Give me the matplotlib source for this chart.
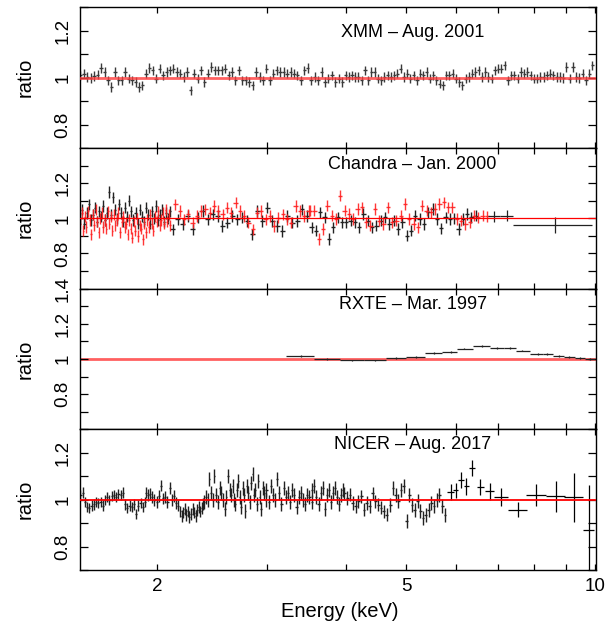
import numpy as np
import matplotlib
matplotlib.use("Agg")
import matplotlib.pyplot as plt
from matplotlib.ticker import FixedLocator, FixedFormatter, NullFormatter

plt.rcParams['font.family'] = ['Liberation Sans', 'DejaVu Sans']

# ---------------- data: data/model ratios ----------------
# XMM - Aug. 2001 (two stretches of nearly log-even grouping)
xmm_band_lo = (1.51, 3.90)
xmm_ratio_lo = [1.010, 1.017, 1.003, 0.999, 1.007, 1.013, 1.041, 1.024, 0.989, 0.960,
                1.024, 0.989, 0.989, 1.024, 0.996, 0.989, 0.982, 0.960, 0.967, 1.017,
                1.041, 1.031, 0.996, 1.038, 1.010, 1.024, 1.031, 1.038, 1.024, 1.017,
                1.003, 1.024, 0.946, 1.017, 0.996, 1.031, 0.982, 1.017, 1.045, 1.031,
                1.031, 1.031, 1.038, 1.010, 1.024, 0.989, 1.031, 0.989, 0.989, 0.982,
                0.967, 1.024, 1.003, 0.989, 1.038, 0.989, 1.017, 1.031, 1.024, 1.024,
                1.017, 1.024, 1.017, 1.010, 0.989, 1.031, 1.041, 0.989, 1.003, 0.989,
                1.024, 0.982, 0.996, 1.010, 0.982, 0.996]
xmm_band_hi = (3.95, 9.90)
xmm_ratio_hi = [0.982, 1.010, 1.003, 1.010, 1.003, 1.003, 0.989, 1.031, 0.989, 1.024,
                1.024, 0.996, 0.989, 1.003, 1.010, 1.003, 1.010, 1.017, 1.038, 1.003,
                1.017, 0.996, 1.010, 0.989, 1.017, 1.010, 1.024, 0.996, 1.010, 0.989,
                0.974, 0.967, 1.010, 1.010, 1.017, 0.996, 0.982, 0.967, 0.996, 1.003,
                1.017, 1.024, 1.031, 1.003, 1.024, 1.003, 0.996, 1.031, 1.038, 1.038,
                1.053, 0.989, 1.010, 1.010, 0.996, 1.024, 1.017, 1.024, 1.010, 0.996,
                0.996, 1.003, 1.003, 1.010, 1.017, 1.010, 1.003, 1.003, 0.999, 1.045,
                0.996, 1.045, 1.003, 0.999, 1.017, 0.989, 1.017, 1.053]
xmm_err = 0.02

# Chandra - Jan. 2000, red grating
chandra_red_band_a = (1.51, 2.10)
chandra_red_a = [0.97, 1.03, 0.93, 1.01, 0.95, 1.04, 0.99, 0.91, 1.02, 0.96,
                 1.05, 0.98, 0.92, 1.00, 1.03, 0.95, 0.99, 0.94, 1.04, 0.97,
                 1.01, 0.93, 1.02, 0.96, 0.99, 1.03, 0.92, 0.98, 1.01, 0.95,
                 0.97, 0.91, 0.99, 0.94, 0.89, 0.98, 0.93, 1.00, 0.90, 0.96,
                 0.94, 0.88, 0.97, 0.92, 0.99, 0.95, 1.02, 0.97, 0.93, 1.01,
                 0.98, 1.04, 0.96, 0.99, 1.03, 0.97, 1.05, 0.98, 1.02, 0.96]
chandra_red_band_b = (2.14, 3.49)
chandra_red_b = [1.080, 1.042, 0.994, 1.023, 0.975, 1.013, 1.042, 1.051, 1.032, 1.070,
                 1.042, 1.023, 1.061, 1.032, 1.089, 1.042, 1.013, 0.975, 0.937, 1.032,
                 1.042, 0.994, 1.013, 0.956, 1.004, 1.023, 0.994, 0.975, 1.070, 1.042,
                 1.013, 1.042]
chandra_red_band_c = (3.51, 6.72)
chandra_red_c = [1.044, 1.044, 0.882, 0.939, 1.072, 1.015, 0.996, 1.129, 1.044, 1.025,
                 0.996, 1.053, 1.063, 0.977, 0.958, 1.053, 0.987, 0.968, 1.063, 0.977,
                 0.987, 1.015, 1.082, 0.996, 0.968, 0.949, 1.072, 1.044, 1.034, 1.053,
                 1.082, 1.091, 1.063, 1.063, 0.996, 0.987, 0.968, 0.977, 1.015, 1.006,
                 1.015, 1.011]
chandra_red_err = 0.032

# Chandra - Jan. 2000, black grating
chandra_blk_band_a = (1.51, 2.10)
chandra_blk_a = [1.00, 1.05, 0.97, 1.03, 1.08, 0.99, 1.02, 1.06, 0.98, 1.04,
                 1.01, 1.07, 0.99, 1.03, 1.15, 1.02, 1.12, 1.05, 1.00, 1.08,
                 1.03, 0.98, 1.06, 1.01, 1.10, 1.04, 0.99, 1.03, 0.97, 1.05,
                 1.01, 0.98, 1.06, 1.02, 0.97, 1.04, 1.00, 1.07, 0.99, 1.02,
                 1.05, 0.98, 1.03, 1.00, 1.04]
chandra_blk_band_b = (2.12, 3.47)
chandra_blk_b = [0.937, 0.994, 0.966, 1.013, 0.937, 1.004, 1.042, 0.994, 1.023, 1.013,
                 0.956, 0.975, 1.013, 0.994, 1.004, 0.985, 0.909, 1.042, 0.985, 1.061,
                 0.985, 0.956, 0.928, 1.013, 0.975, 0.985, 1.051, 1.013]
chandra_blk_band_c = (3.53, 6.45)
chandra_blk_c = [0.949, 0.930, 1.034, 1.006, 0.882, 0.949, 1.006, 0.977, 0.977, 0.987,
                 0.977, 0.949, 1.025, 0.987, 0.949, 0.958, 0.987, 1.006, 0.968, 0.987,
                 0.939, 0.977, 0.901, 0.930, 1.015, 0.996, 0.968, 1.034, 1.053, 0.996,
                 0.943, 1.006, 0.996, 1.000, 0.939, 0.996, 1.025, 1.006, 1.015]
chandra_blk_err = 0.032
chandra_wide_e = [6.90, 7.23, 8.62]
chandra_wide_lo = [6.75, 7.06, 7.40]
chandra_wide_hi = [7.06, 7.40, 9.88]
chandra_wide_ratio = [1.011, 1.015, 0.962]
chandra_wide_err = [0.030, 0.030, 0.048]

# RXTE - Mar. 1997
rxte_e = [3.40, 3.74, 4.10, 4.45, 4.82, 5.17, 5.53, 5.88, 6.18, 6.61,
          6.98, 7.31, 7.65, 8.11, 8.39, 8.76, 9.09, 9.46, 9.82]
rxte_ratio = [1.015, 0.998, 0.992, 0.992, 1.004, 1.011, 1.032, 1.040, 1.059, 1.074,
              1.063, 1.061, 1.048, 1.030, 1.029, 1.019, 1.010, 1.004, 1.000]
rxte_edges = (3.21, 10.0)
rxte_err = 0.005

# NICER - Aug. 2017, dense part (energy band, ratios)
nicer_a = [1.02, 1.03, 0.99, 0.97, 0.965, 0.975, 0.98, 0.99, 0.985, 0.99,
           0.975, 1.00, 1.01, 1.00, 1.015, 1.02, 1.01, 1.025, 1.02, 1.03]
nicer_b = [0.98, 0.965, 0.975, 0.97, 0.98, 0.94, 0.975, 0.985, 0.97, 0.99]
nicer_c = [1.03, 1.02, 1.025, 1.01, 1.0, 0.99, 1.015, 1.06, 1.005, 1.01,
           0.99, 1.05, 1.0, 1.015, 0.985, 0.975]
nicer_d = [0.95, 0.93, 0.945, 0.96, 0.935, 0.95, 0.925, 0.94, 0.96, 0.945,
           0.93, 0.955, 0.97, 0.95, 0.965, 0.98]
nicer_e = [0.99, 1.01, 1.00, 1.09, 1.03, 1.00, 1.10, 1.02, 0.99, 1.05,
           1.03, 1.00, 0.96, 1.01, 1.10, 1.04, 1.02]
nicer_f = [1.06, 1.00, 0.98, 1.04, 1.08, 1.01, 0.97, 1.05, 1.02, 0.95,
           1.06, 1.03, 0.99, 1.07, 1.11, 1.02, 1.04, 0.98, 1.08, 1.01,
           0.96, 1.05, 1.03, 1.00]
nicer_g = [1.04, 0.99, 1.06, 1.02, 1.00, 1.09, 1.03, 0.98, 1.05, 1.01,
           1.03, 0.99, 1.04, 1.02, 0.97, 1.01, 1.03, 1.00, 0.98, 1.02,
           1.01, 0.99]
nicer_h = [1.04, 1.06, 1.01, 0.98, 1.03, 1.05, 0.96, 1.02, 1.04, 0.99,
           1.03, 1.05, 1.01, 0.98, 1.02, 1.04]
nicer_i = [1.028, 1.007, 1.021, 0.986, 0.972, 0.993, 1.014, 0.957, 0.986, 0.972,
           1.028, 0.993, 0.979, 0.965, 0.950, 0.936]
nicer_j = [0.979, 1.050, 1.021, 0.993, 1.043, 1.057, 0.908, 1.021, 0.979, 0.957,
           0.993, 0.950, 0.922, 0.936, 0.955, 0.986, 0.972, 1.000, 1.021, 0.972,
           0.936]
nicer_bands = [(1.51, 1.765), (1.78, 1.914), (1.92, 2.163), (2.18, 2.37), (2.38, 2.63),
               (2.64, 2.98), (2.99, 3.53), (3.54, 3.96), (3.98, 4.65), (4.71, 5.76)]
nicer_band_err = [0.022, 0.022, 0.025, 0.025, 0.03, 0.03, 0.03, 0.03, 0.028, 0.03]
# NICER sparse high-energy bins
nicer_wide_e = [5.88, 5.99, 6.11, 6.23, 6.37, 6.56, 6.79, 7.07, 7.52, 8.05, 8.65, 9.24, 9.76]
nicer_wide_de = [0.07, 0.06, 0.06, 0.06, 0.07, 0.08, 0.11, 0.18, 0.27, 0.30, 0.29, 0.31, 0.21]
nicer_wide_ratio = [1.033, 1.040, 1.085, 1.057, 1.135, 1.054, 1.035, 1.011, 0.956, 1.021,
                    1.014, 1.010, 0.872]
nicer_wide_err = [0.035, 0.032, 0.035, 0.035, 0.035, 0.033, 0.035, 0.037, 0.032, 0.047,
                  0.066, 0.105, 0.19]

titles = ["XMM – Aug. 2001", "Chandra – Jan. 2000", "RXTE – Mar. 1997", "NICER – Aug. 2017"]


def half_bins(e, first=None, last=None):
    """x error bars: geometric midpoints between neighbouring channels."""
    e = np.asarray(e, dtype=float)
    mid = np.sqrt(e[1:] * e[:-1])
    lo = np.r_[first if first else e[0] ** 2 / mid[0], mid]
    hi = np.r_[mid, last if last else e[-1] ** 2 / mid[-1]]
    return np.vstack([e - lo, hi - e])


def band(ax, lo_hi, ratio, err, color, lw=1.0, alpha=1.0):
    e = np.geomspace(lo_hi[0], lo_hi[1], len(ratio))
    ax.errorbar(e, ratio, xerr=half_bins(e), yerr=err, fmt='none', ecolor=color,
                elinewidth=lw, capsize=0, alpha=alpha)


# ---------------- figure ----------------
W, H = 614, 625
fig = plt.figure(figsize=(W / 100, H / 100), dpi=100)
left, right, top, bottom = 79.5, 596.0, 7.3, 570.0
ph = (bottom - top) / 4
axes = []
for k in range(4):
    y0 = top + k * ph
    ax = fig.add_axes([left / W, 1 - (y0 + ph) / H, (right - left) / W, ph / H])
    axes.append(ax)
ax1, ax2, ax3, ax4 = axes

# XMM
band(ax1, xmm_band_lo, xmm_ratio_lo, xmm_err, '#3a3a3a')
band(ax1, xmm_band_hi, xmm_ratio_hi, xmm_err, '#3a3a3a')
ax1.axhline(1.0, color='#ff3b3b', lw=2.0, alpha=0.8, zorder=3)

# Chandra
for b, r in [(chandra_blk_band_a, chandra_blk_a), (chandra_blk_band_b, chandra_blk_b),
             (chandra_blk_band_c, chandra_blk_c)]:
    band(ax2, b, r, chandra_blk_err, '#222222')
for b, r in [(chandra_red_band_a, chandra_red_a), (chandra_red_band_b, chandra_red_b),
             (chandra_red_band_c, chandra_red_c)]:
    band(ax2, b, r, chandra_red_err, '#ff2020', alpha=0.9)
ce = np.asarray(chandra_wide_e)
ax2.errorbar(ce, chandra_wide_ratio,
             xerr=[ce - np.asarray(chandra_wide_lo), np.asarray(chandra_wide_hi) - ce],
             yerr=chandra_wide_err, fmt='none', ecolor='#222222', elinewidth=0.9, capsize=0)
ax2.axhline(1.0, color='red', lw=0.9, zorder=3)

# RXTE
ax3.axhline(1.0, color='#ff6060', lw=2.0, zorder=1)
ax3.errorbar(rxte_e, rxte_ratio, xerr=half_bins(rxte_e, *rxte_edges), yerr=rxte_err,
             fmt='none', ecolor='#222222', elinewidth=0.9, capsize=0, zorder=2)

# NICER
for b, r, er in zip(nicer_bands, [nicer_a, nicer_b, nicer_c, nicer_d, nicer_e,
                                  nicer_f, nicer_g, nicer_h, nicer_i, nicer_j],
                    nicer_band_err):
    band(ax4, b, r, er, '#222222')
ax4.errorbar(nicer_wide_e, nicer_wide_ratio, xerr=nicer_wide_de, yerr=nicer_wide_err,
             fmt='none', ecolor='black', elinewidth=0.9, capsize=0)
ax4.axhline(1.0, color='red', lw=1.3, zorder=3)

ylims = [(0.7, 1.3), (0.6, 1.4), (0.6, 1.4), (0.7, 1.3)]
title_y = [0.82, 0.885, 0.885, 0.89]
for i, ax in enumerate(axes):
    ax.set_xscale('log')
    ax.set_xlim(1.505, 10.03)
    ax.set_ylim(*ylims[i])
    ax.xaxis.set_major_locator(FixedLocator([2, 5, 10]))
    ax.xaxis.set_minor_locator(FixedLocator([3, 4, 6, 7, 8, 9]))
    ax.xaxis.set_minor_formatter(NullFormatter())
    if ax is ax4:
        ax.xaxis.set_major_formatter(FixedFormatter(['2', '5', '10']))
    else:
        ax.xaxis.set_major_formatter(NullFormatter())
    ymaj = [0.8, 1.0, 1.2, 1.4] if ax is ax3 else [0.8, 1.0, 1.2]
    ax.yaxis.set_major_locator(FixedLocator(ymaj))
    ax.yaxis.set_major_formatter(FixedFormatter(['0.8', '1', '1.2', '1.4'][:len(ymaj)]))
    ax.yaxis.set_minor_locator(FixedLocator([0.7, 0.9, 1.1, 1.3]))
    ax.tick_params(axis='both', which='both', direction='in', top=True, right=True,
                   width=0.9, colors='black')
    ax.tick_params(axis='x', which='both', length=4, pad=6, labelsize=13.5)
    ax.tick_params(axis='y', which='both', length=5.5, pad=6, labelsize=13.5,
                   labelrotation=90)
    for lab in ax.get_yticklabels():
        lab.set_verticalalignment('center')
    for s in ax.spines.values():
        s.set_linewidth(1.0)
    ax.set_ylabel('ratio', fontsize=14.5)
    ax.yaxis.set_label_coords(-0.106, 0.5)
    ax.yaxis.label.set_verticalalignment('center')
    ax.text(0.645, title_y[i], titles[i], transform=ax.transAxes, ha='center',
            va='center', fontsize=13)

ax4.set_xlabel('Energy (keV)', fontsize=14.5)
ax4.xaxis.set_label_coords(0.503, -0.295)
ax4.xaxis.label.set_verticalalignment('center')

fig.savefig('out.png', dpi=100)
